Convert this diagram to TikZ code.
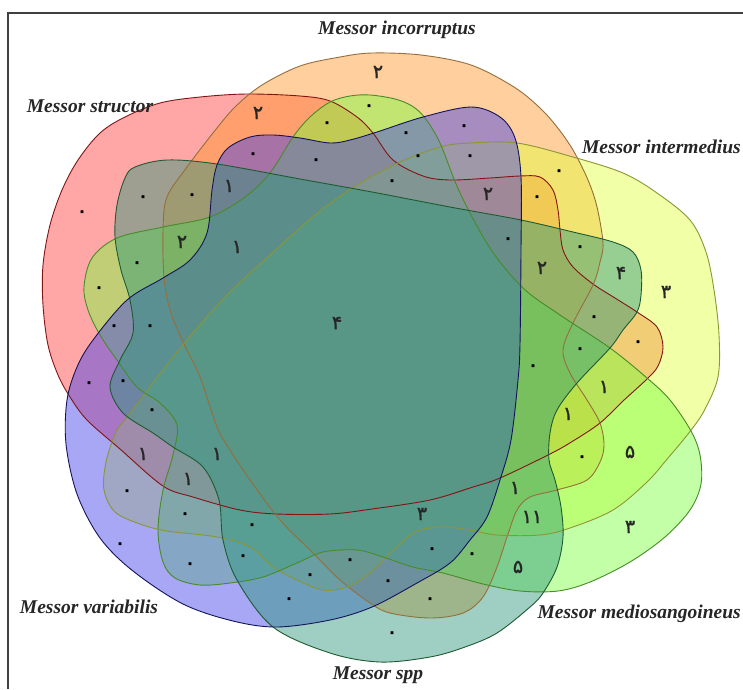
\documentclass[tikz,border=0pt]{standalone}
\usepackage{fontspec}
\setmainfont{Liberation Serif}
\newfontfamily\fadigits[Script=Arabic,FakeBold=1.5]{DejaVu Sans}
\definecolor{cRed}{RGB}{255,60,60}
\definecolor{cRedL}{RGB}{130,20,20}
\definecolor{cPeach}{RGB}{255,150,40}
\definecolor{cPeachL}{RGB}{150,110,60}
\definecolor{cYel}{RGB}{225,255,60}
\definecolor{cYelL}{RGB}{140,150,50}
\definecolor{cGrn}{RGB}{120,255,60}
\definecolor{cGrnL}{RGB}{70,140,40}
\definecolor{cTeal}{RGB}{40,150,120}
\definecolor{cTealL}{RGB}{30,90,50}
\definecolor{cBlue}{RGB}{60,60,235}
\definecolor{cBlueL}{RGB}{20,20,90}
\def\pRed{plot[smooth cycle,tension=0.55] coordinates {(330,101) (300,96) (247,94) (200,97) (160,103) (125,117) (100,133) (78,160) (62,190) (50,225) (43,265) (43,305) (48,345) (58,375) (70,397) (87,420) (120,449) (163,486) (193,497) (240,510) (277,514) (330,514) (372,509) (430,500) (473,487) (500,478) (550,454) (573,441) (600,423) (623,401) (647,379) (658,366) (663,347) (657,327) (637,312) (615,298) (593,284) (573,267) (563,250) (560,230) (558,210) (553,190) (540,177) (520,176) (490,178) (450,180) (423,176) (393,160) (373,133) (357,117)}}
\def\pPeach{plot[smooth cycle,tension=0.55] coordinates {(213,133) (235,107) (262,85) (300,66) (340,57) (372,53) (421,55) (471,65) (514,87) (540,108) (557,127) (573,150) (588,180) (597,207) (603,243) (600,262) (593,285) (573,323) (563,350) (570,373) (587,400) (600,423) (604,445) (600,462) (587,480) (557,490) (530,497) (517,510) (507,537) (497,567) (483,597) (463,613) (430,618) (390,613) (370,603) (340,580) (313,553) (280,520) (250,480) (230,450) (217,427) (200,377) (183,342) (170,310) (164,277) (163,230) (167,197) (187,167)}}
\def\pYel{plot[smooth cycle,tension=0.55] coordinates {(470,143) (517,143) (573,157) (623,173) (657,193) (690,220) (706,252) (714,290) (719,335) (718,377) (704,411) (688,434) (668,458) (647,482) (613,510) (570,528) (540,535) (497,535) (470,530) (443,527) (417,531) (397,547) (370,573) (347,587) (323,590) (297,580) (273,567) (250,547) (217,537) (167,531) (140,524) (115,512) (104,490) (106,462) (116,432) (127,417) (177,352) (225,297) (270,255) (315,215) (357,185) (400,162) (440,147)}}
\def\pGrn{plot[smooth cycle,tension=0.55] coordinates {(330,102) (350,96) (370,95) (395,99) (412,106) (425,118) (440,143) (460,193) (490,248) (523,288) (560,315) (610,348) (647,378) (670,400) (691,431) (700,455) (701,484) (690,510) (665,537) (630,562) (590,582) (558,591) (520,591) (483,584) (443,573) (413,567) (383,557) (357,550) (323,552) (297,563) (263,577) (230,583) (200,585) (175,578) (163,562) (158,530) (163,490) (173,455) (177,425) (160,403) (137,387) (117,360) (100,335) (88,310) (84,287) (92,258) (117,238) (163,227) (210,217) (245,197) (270,173) (293,137) (310,117)}}
\def\pTeal{plot[smooth cycle,tension=0.55] coordinates {(125,178) (135,167) (167,160) (217,164) (300,179) (372,192) (450,207) (521,220) (573,232) (613,242) (633,252) (641,270) (641,295) (637,312) (623,330) (610,348) (577,383) (557,410) (550,433) (549,460) (555,480) (561,507) (563,537) (557,567) (543,593) (530,607) (497,633) (465,647) (430,657) (380,662) (330,653) (273,627) (237,580) (223,540) (219,500) (203,467) (173,447) (153,433) (123,413) (110,387) (120,360) (133,333) (130,300) (121,270) (115,237) (117,205)}}
\def\pBlue{plot[smooth cycle,tension=0.55] coordinates {(217,165) (228,148) (250,137) (273,135) (300,138) (330,143) (350,140) (377,132) (423,117) (471,107) (500,117) (515,138) (521,177) (521,250) (520,344) (518,380) (511,440) (500,480) (487,517) (470,540) (450,563) (417,583) (372,607) (330,620) (277,627) (233,621) (183,604) (133,571) (100,538) (77,494) (66,444) (67,400) (77,367) (93,340) (127,300) (163,278) (190,260) (207,233) (212,190)}}
\begin{document}
\begin{tikzpicture}[x=1pt,y=-1pt,
  setfill/.style={fill opacity=0.45},
  setline/.style={line width=0.9pt},
  setlabel/.style={font=\fontsize{19.5}{22}\selectfont\bfseries\itshape, text=black!85, inner sep=0pt},
  num/.style={font=\fadigits\fontsize{19}{20}\selectfont, text=black!85, inner sep=0pt},
  zero/.style={font=\fadigits\fontsize{21}{22}\selectfont, text=black, inner sep=0pt}]
\useasboundingbox (0,0) rectangle (743,689);
\fill[white] (0,0) rectangle (743,689);
% fills
\fill[cRed,setfill] \pRed;
\fill[cPeach,setfill] \pPeach;
\fill[cYel,setfill] \pYel;
\fill[cGrn,setfill] \pGrn;
\fill[cBlue,setfill] \pBlue;
\fill[cTeal,setfill] \pTeal;
% outlines
\draw[cRedL,setline] \pRed;
\draw[cPeachL,setline] \pPeach;
\draw[cYelL,setline] \pYel;
\draw[cGrnL,setline] \pGrn;
\draw[cTealL,setline] \pTeal;
\draw[cBlueL,setline] \pBlue;
% frame
\draw[black!75,line width=1.3pt] (8,689) -- (8,13) -- (743,13);
% labels
\node[setlabel] (lInc) at (397,30) {Messor incorruptus};
\node[setlabel] (lStr) at (90,106) {Messor structor};
\node[setlabel,anchor=east] (lInt) at (741,147) {Messor intermedius};
\node[setlabel,anchor=east] (lMed) at (741,614) {Messor mediosangoineus};
\node[setlabel] (lSpp) at (378,675) {Messor spp};
\node[setlabel] (lVar) at (89,607) {Messor variabilis};
% counts
\foreach \x/\y/\t [count=\i] in {378/72/۲, 258/113/۲, 182/242/۲, 229/186/۱, 237/247/۱, 337/323/۴, 488/194/۲, 542/268/۲, 621/273/۴, 666/292/۳, 604/387/۱, 568/414/۱, 630/452/۵, 515/488/۱, 532/517/۱۱, 422/514/۳, 630/527/۳, 518/567/۵, 143/454/۱, 217/454/۱, 188/479/۱}
  \node[num] (n\i) at (\x,\y) {\t};
\foreach \x/\y [count=\i] in {82/214, 143/199, 192/197, 137/265, 99/290, 114/328, 150/328, 327/125, 369/108, 253/156, 316/162, 406/135, 418/158, 392/183, 464/128, 470/158, 559/173, 537/199, 508/241, 580/249, 594/319, 638/344, 580/351, 533/368, 582/459, 472/556, 432/551, 430/601, 388/583, 392/635, 89/385, 123/383, 152/412, 127/493, 185/516, 120/546, 252/527, 243/558, 190/566, 310/577, 350/562, 289/601}
  \node[zero] (z\i) at (\x,\y) {۰};
\end{tikzpicture}
\end{document}
